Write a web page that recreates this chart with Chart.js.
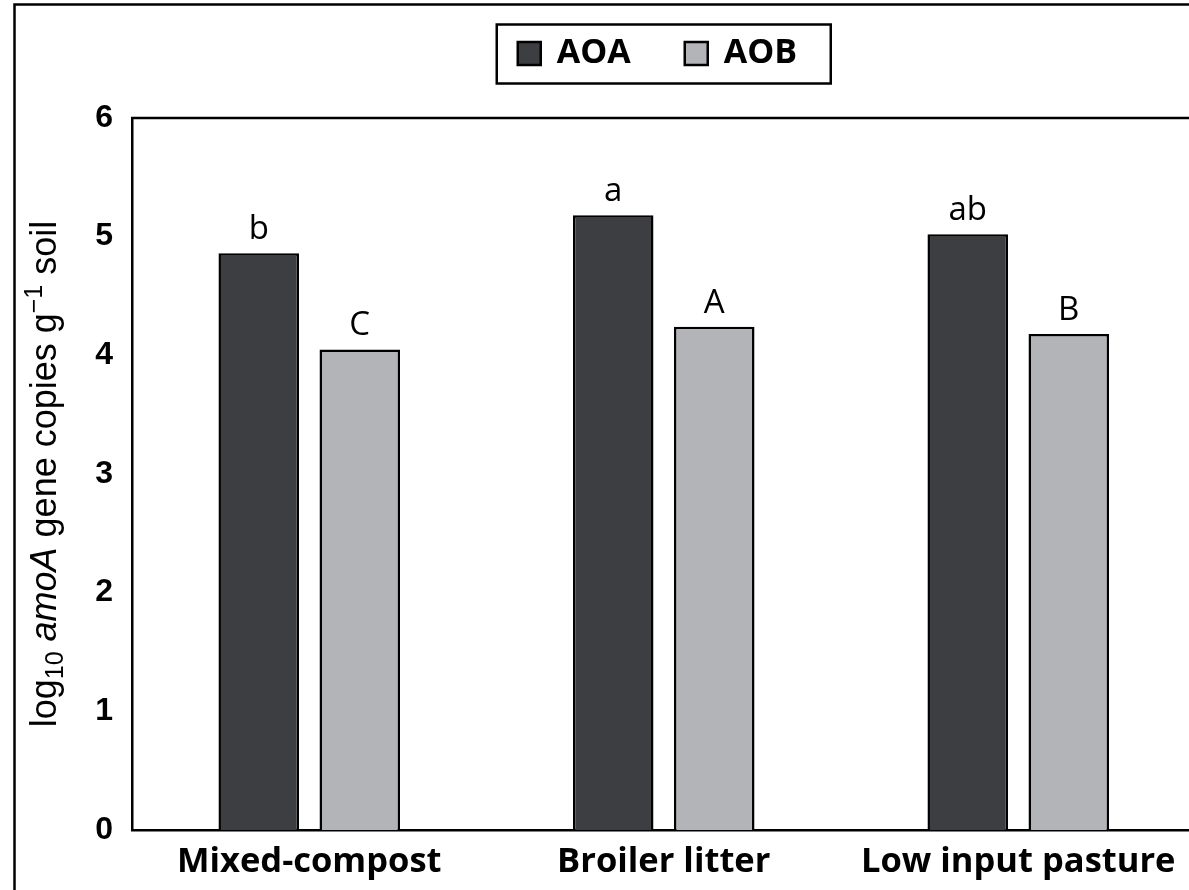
<!DOCTYPE html>
<html>
<head>
<meta charset="utf-8">
<script src="https://cdn.jsdelivr.net/npm/chart.js@4/dist/chart.umd.min.js"></script>
<style>
  html, body { margin: 0; padding: 0; background: #fff; overflow: hidden; }
  #wrap { width: 1189px; height: 890px; overflow: hidden; position: relative; }
  canvas { position: absolute; left: 0; top: 0; }
</style>
</head>
<body>
<div id="wrap"><canvas id="chart" width="1220" height="890"></canvas></div>
<script>
// Treatments and log10 amoA abundance per group
const categories = ['Mixed-compost', 'Broiler litter', 'Low input pasture'];
const seriesNames = ['AOA', 'AOB'];
const aoaValues = [4.86, 5.18, 5.02];
const aobValues = [4.05, 4.24, 4.18];
// Significance letters shown above each bar
const aoaLetters = ['b', 'a', 'ab'];
const aobLetters = ['C', 'A', 'B'];
const yTicks = [0, 1, 2, 3, 4, 5, 6];

const AOA_FILL = '#3d3e42';
const AOB_FILL = '#b3b4b7';
const INK = '#000000';

const SANS = "'Liberation Sans', Arial, sans-serif";
const HUMANIST = "'Open Sans', Lato, sans-serif";

// Outer frame, plot frame and the boxed legend
const framePlugin = {
  id: 'frames',
  afterDraw(chart) {
    const { ctx, chartArea: a } = chart;
    ctx.save();
    ctx.strokeStyle = INK;
    // outer figure frame (left and top edges visible)
    ctx.lineWidth = 2.5;
    ctx.beginPath();
    ctx.moveTo(14.5, chart.height + 10);
    ctx.lineTo(14.5, 4.5);
    ctx.lineTo(chart.width + 10, 4.5);
    ctx.stroke();
    // top edge of plot frame
    ctx.beginPath();
    ctx.moveTo(a.left - 1, a.top);
    ctx.lineTo(a.right + 10, a.top);
    ctx.stroke();

    // legend box
    const cx = (a.left + a.right) / 2;
    const boxW = 334, boxH = 59, boxTop = 24.5;
    ctx.strokeRect(cx - boxW / 2, boxTop, boxW, boxH);
    const fills = chart.data.datasets.map(d => d.backgroundColor);
    const labels = chart.data.datasets.map(d => d.label);
    const itemX = [cx - 146, cx + 21];
    ctx.font = "700 34px " + HUMANIST;
    ctx.textBaseline = 'middle';
    ctx.textAlign = 'left';
    for (let i = 0; i < labels.length; i++) {
      const sx = itemX[i], sy = 42;
      ctx.fillStyle = fills[i];
      ctx.fillRect(sx, sy, 23, 23);
      ctx.strokeRect(sx, sy, 23, 23);
      ctx.fillStyle = INK;
      ctx.fillText(labels[i], sx + 39, 53);
    }
    ctx.restore();
  }
};

// Letters above bars, taken from the bar elements
const letterPlugin = {
  id: 'letters',
  afterDatasetsDraw(chart) {
    const { ctx } = chart;
    const sets = [aoaLetters, aobLetters];
    ctx.save();
    ctx.font = "400 33px " + HUMANIST;
    ctx.fillStyle = INK;
    ctx.textAlign = 'center';
    ctx.textBaseline = 'alphabetic';
    chart.data.datasets.forEach((ds, di) => {
      const meta = chart.getDatasetMeta(di);
      meta.data.forEach((bar, i) => {
        ctx.fillText(sets[di][i], bar.x, bar.y - 14);
      });
    });
    ctx.restore();
  }
};

// Rotated y-axis title with subscript, italic and superscript parts
const yTitlePlugin = {
  id: 'yTitle',
  afterDraw(chart) {
    const { ctx, chartArea: a } = chart;
    const base = 36, small = 25;
    const parts = [
      { t: 'log', f: `400 ${base}px ${SANS}`, dy: 0 },
      { t: '10', f: `400 ${small}px ${SANS}`, dy: 7 },
      { t: ' ', f: `400 ${base}px ${SANS}`, dy: 0 },
      { t: 'amoA', f: `italic 400 ${base}px ${SANS}`, dy: 0 },
      { t: ' gene copies g', f: `400 ${base}px ${SANS}`, dy: 0 },
      { t: '\u22121', f: `400 ${small}px ${SANS}`, dy: -14 },
      { t: ' soil', f: `400 ${base}px ${SANS}`, dy: 0 }
    ];
    ctx.save();
    let total = 0;
    parts.forEach(p => { ctx.font = p.f; p.w = ctx.measureText(p.t).width; total += p.w; });
    ctx.translate(56, (a.top + a.bottom) / 2);
    ctx.rotate(-Math.PI / 2);
    ctx.fillStyle = INK;
    ctx.textBaseline = 'alphabetic';
    ctx.textAlign = 'left';
    let x = -total / 2;
    parts.forEach(p => { ctx.font = p.f; ctx.fillText(p.t, x, p.dy); x += p.w; });
    ctx.restore();
  }
};

new Chart(document.getElementById('chart'), {
  type: 'bar',
  data: {
    labels: categories,
    datasets: [
      { label: seriesNames[0], data: aoaValues, backgroundColor: AOA_FILL, borderColor: INK, borderWidth: 2.5 },
      { label: seriesNames[1], data: aobValues, backgroundColor: AOB_FILL, borderColor: INK, borderWidth: 2.5 }
    ]
  },
  options: {
    responsive: false,
    animation: false,
    devicePixelRatio: 1,
    categoryPercentage: 0.57,
    barPercentage: 0.797,
    layout: { padding: { top: 118, right: 24.5, left: 0, bottom: 0 } },
    plugins: { legend: { display: false }, tooltip: { enabled: false } },
    scales: {
      x: {
        grid: { display: false, drawTicks: false },
        border: { display: true, color: INK, width: 2.5 },
        ticks: { color: INK, font: { family: HUMANIST, size: 34.5, weight: '700' }, padding: 11, maxRotation: 0, autoSkip: false },
        afterFit(scale) { scale.height = 60; }
      },
      y: {
        min: 0, max: 6,
        grid: { display: false, drawTicks: false },
        border: { display: true, color: INK, width: 2.5 },
        afterBuildTicks(scale) { scale.ticks = yTicks.map(v => ({ value: v })); },
        ticks: { color: INK, font: { family: SANS, size: 32, weight: '700' }, padding: 19 },
        afterFit(scale) { scale.width = 132; }
      }
    }
  },
  plugins: [framePlugin, letterPlugin, yTitlePlugin]
});
</script>
</body>
</html>
